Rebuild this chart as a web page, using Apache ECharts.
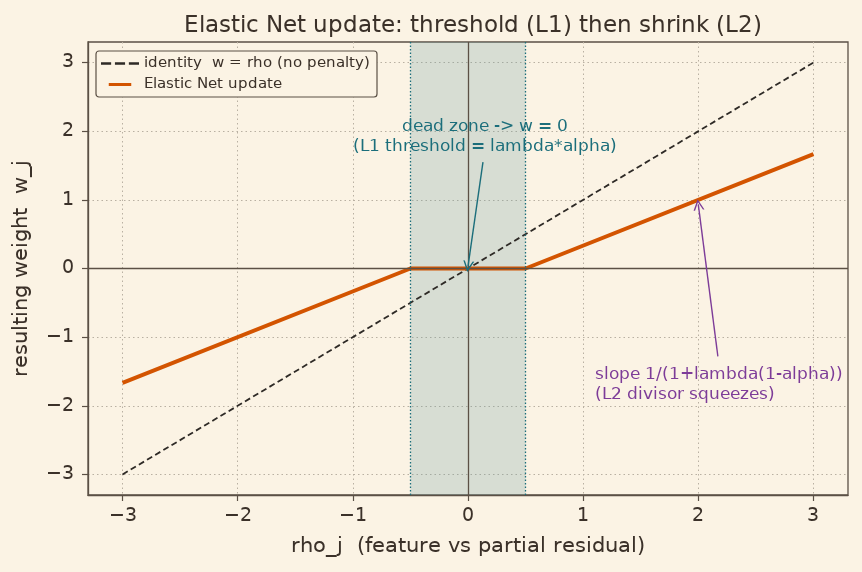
<!DOCTYPE html>
<html>
<head>
<meta charset="utf-8">
<script src="https://cdn.jsdelivr.net/npm/echarts@6/dist/echarts.min.js"></script>
<style>
    @font-face {font-family: 'DVS'; src: local('DejaVu Sans'), local('DejaVuSans');}
    html, body {margin: 0; padding: 0; background: #fbf3e4;}
    #chartBox {width: 862px; height: 572px;}
</style>
</head>
<body>
<div id="chartBox"></div>
<script>
// identity line w = rho
let identityRho = [-3, 3];
let identityW = [-3, 3];
// elastic net update: flat in the dead zone, then shrunk slope
let enetRho = [-3, -0.5, 0.5, 3];
let enetW = [-1.667, 0, 0, 1.667];
// dead zone edges (L1 threshold)
let deadZone = [-0.5, 0.5];
// tick positions on both axes
let tickValues = [-3, -2, -1, 0, 1, 2, 3];

let fontName = 'DVS, "DejaVu Sans", sans-serif';
let textColor = '#3b3129';
let frameColor = '#5b5045';
let tealColor = '#1b6e7b';
let purpleColor = '#7d3c98';
let orangeColor = '#d35400';
let openArrow = 'path://M0,10 L5,0 L10,10 L8.6,10 L5,2.8 L1.4,10 Z';

function pairs(xs, ys) {
    return xs.map(function (x, i) { return [x, ys[i]]; });
}

function tickText(v) {
    return String(Math.round(v)).replace('-', '\u2212');
}

function setChart() {
    let chartBox = echarts.init(document.getElementById('chartBox'));
    let axisCommon = {
        type: 'value', min: -3.3, max: 3.3, splitNumber: 7,
        nameLocation: 'middle',
        nameTextStyle: {color: textColor, fontSize: 20.5, fontFamily: fontName},
        axisLine: {show: true, onZero: false, lineStyle: {color: frameColor, width: 1.3}},
        axisTick: {show: true, inside: false, length: 6, customValues: tickValues, lineStyle: {color: frameColor, width: 1.2}},
        axisLabel: {color: textColor, fontSize: 18.5, fontFamily: fontName, customValues: tickValues, formatter: tickText},
        splitLine: {show: true, lineStyle: {color: '#b9b0a2', type: [1.5, 3], width: 1}}
    };

    let option = {
        backgroundColor: '#fbf3e4',
        animation: false,
        title: {
            text: 'Elastic Net update: threshold (L1) then shrink (L2)',
            left: 468, textAlign: 'center', top: 10,
            textStyle: {color: textColor, fontSize: 22.5, fontWeight: 'normal', fontFamily: fontName}
        },
        grid: {left: 88, right: 14, top: 42, bottom: 77, show: true, borderColor: frameColor, borderWidth: 1.3, backgroundColor: 'transparent'},
        legend: {
            left: 96, top: 51, orient: 'vertical',
            data: [
                {name: 'identity  w = rho (no penalty)', icon: 'path://M0,0h8v2h-8z M11,0h8v2h-8z M22,0h8v2h-8z', itemStyle: {color: '#2e2a26'}},
                {name: 'Elastic Net update', icon: 'path://M0,0h30v4h-30z', itemStyle: {color: orangeColor}}
            ],
            backgroundColor: '#fbf3e4', borderColor: frameColor, borderWidth: 1.2, borderRadius: 3,
            padding: [5, 7, 5, 5], itemGap: 6, itemWidth: 38, itemHeight: 3,
            textStyle: {color: textColor, fontSize: 15.3, fontFamily: fontName}
        },
        xAxis: Object.assign({}, axisCommon, {
            name: 'rho_j  (feature vs partial residual)', nameGap: 41,
            axisLabel: Object.assign({}, axisCommon.axisLabel, {margin: 12})
        }),
        yAxis: Object.assign({}, axisCommon, {
            name: 'resulting weight  w_j', nameGap: 56,
            axisLabel: Object.assign({}, axisCommon.axisLabel, {margin: 14})
        }),
        series: [
            {
                type: 'line', name: 'zones', data: [], silent: true,
                markArea: {
                    silent: true,
                    itemStyle: {color: 'rgba(107,155,160,0.25)'},
                    data: [[{xAxis: deadZone[0]}, {xAxis: deadZone[1]}]]
                },
                markLine: {
                    silent: true, symbol: 'none', label: {show: false},
                    data: [
                        {xAxis: deadZone[0], lineStyle: {color: tealColor, type: [1.5, 2], width: 1.3}},
                        {xAxis: deadZone[1], lineStyle: {color: tealColor, type: [1.5, 2], width: 1.3}},
                        {xAxis: 0, lineStyle: {color: frameColor, type: 'solid', width: 1.3}},
                        {yAxis: 0, lineStyle: {color: frameColor, type: 'solid', width: 1.3}}
                    ]
                }
            },
            {
                type: 'line', name: 'identity  w = rho (no penalty)',
                data: pairs(identityRho, identityW), symbol: 'none',
                itemStyle: {color: '#2e2a26'},
                lineStyle: {color: '#2e2a26', width: 1.8, type: [6, 3.5]}
            },
            {
                type: 'line', name: 'Elastic Net update',
                data: pairs(enetRho, enetW), symbol: 'none',
                itemStyle: {color: orangeColor},
                lineStyle: {color: orangeColor, width: 4}
            },
            {
                type: 'line', name: 'notes', data: [], silent: true,
                markLine: {
                    silent: true, symbol: ['none', openArrow], symbolSize: 11, label: {show: false},
                    data: [
                        [{coord: [0.13, 1.55], lineStyle: {color: tealColor, width: 1.4, type: 'solid'}}, {coord: [0.0, 0.03]}],
                        [{coord: [2.17, -1.28], lineStyle: {color: purpleColor, width: 1.4, type: 'solid'}}, {coord: [2.0, 0.93]}]
                    ]
                },
                markPoint: {
                    silent: true, symbol: 'circle', symbolSize: 0,
                    data: [
                        {
                            coord: [0.15, 1.92], value: 0,
                            label: {
                                show: true, position: 'inside', align: 'center', verticalAlign: 'middle',
                                formatter: 'dead zone -> w = 0\n(L1 threshold = lambda*alpha)',
                                color: tealColor, fontSize: 17, lineHeight: 19.5, fontFamily: fontName
                            }
                        },
                        {
                            coord: [1.1, -1.69], value: 0,
                            label: {
                                show: true, position: 'inside', align: 'left', verticalAlign: 'middle',
                                formatter: 'slope 1/(1+lambda(1-alpha))\n(L2 divisor squeezes)',
                                color: purpleColor, fontSize: 17, lineHeight: 19.5, fontFamily: fontName
                            }
                        }
                    ]
                }
            }
        ]
    };
    chartBox.setOption(option, true);
}

document.fonts.load('16px DVS').then(setChart, setChart);
</script>
</body>
</html>
